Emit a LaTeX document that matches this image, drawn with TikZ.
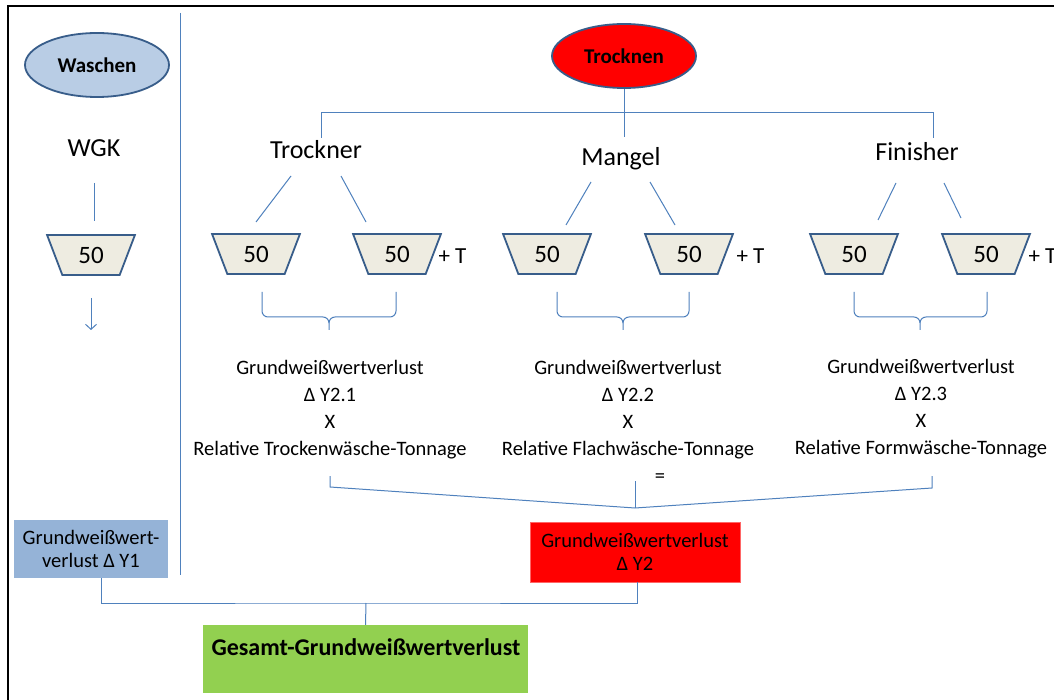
\documentclass[tikz,border=0pt]{standalone}
\usepackage{fontspec}
\setmainfont{Carlito}
\usetikzlibrary{shapes.geometric,arrows.meta}

\definecolor{linkblue}{RGB}{79,129,189}
\definecolor{rimblue}{RGB}{56,93,138}
\definecolor{waschfill}{RGB}{185,205,229}
\definecolor{hopperfill}{RGB}{238,236,225}
\definecolor{yonefill}{RGB}{149,179,215}
\definecolor{totalgreen}{RGB}{146,208,80}
\definecolor{alarmred}{RGB}{255,0,0}

% curly bracket under a pair of hoppers: left x, right x, tip x
\newcommand\pairbrace[3]{%
  \draw[conn] (#1,292) -- (#1,311) to[out=-90,in=180] (#1+6,317) -- (#3-6,317)
    to[out=0,in=90] (#3,323) -- (#3,330);
  \draw[conn] (#3,323) to[out=90,in=180] (#3+6,317) -- (#2-6,317)
    to[out=0,in=-90] (#2,311) -- (#2,292);}

\begin{document}
\begin{tikzpicture}[x=1pt,y=-1pt,
  conn/.style={draw=linkblue, line width=1pt},
  oval/.style={ellipse, draw=rimblue, line width=1.8pt, minimum width=144pt,
    minimum height=64pt, inner sep=0pt, font=\fontsize{21}{24}\selectfont\bfseries},
  hopper/.style={trapezium, trapezium stretches=true, shape border rotate=180,
    trapezium angle=67.6, minimum width=88pt, minimum height=40pt, draw=rimblue,
    line width=1.8pt, fill=hopperfill, inner sep=0pt, font=\fontsize{25}{28}\selectfont},
  heading/.style={anchor=base, font=\fontsize{26}{30}\selectfont},
  plust/.style={anchor=west, font=\fontsize{23}{26}\selectfont},
  formula/.style={align=center, font=\fontsize{20.5}{27}\selectfont},
  result/.style={rectangle, inner sep=0pt, align=center, font=\fontsize{20.5}{23}\selectfont}]

\useasboundingbox (0,0) rectangle (1054,700);
\fill[white] (0,0) rectangle (1054,700);

% outer frame and column divider
\draw[black, line width=2.5pt] (8,700) -- (8,6) -- (1054,6);
\draw[conn] (180,13) -- (180,575);

% washing column
\node[oval, fill=waschfill] (waschen) at (97,65) {Waschen};
\node[heading] (wgk) at (94,157) {WGK};
\node[hopper] (h0) at (91,255) {50};
\draw[conn] (94,183) -- (94,221);
\draw[conn, -{Straight Barb[length=5pt,width=11pt]}] (91,298) -- (91,330);

% drying tree
\node[oval, fill=alarmred] (trocknen) at (624,56) {Trocknen};
\node[heading] (trockner) at (316,159) {Trockner};
\node[heading] (mangel) at (621,166) {Mangel};
\node[heading] (finisher) at (917,161) {Finisher};
\draw[conn] (trocknen.south) -- (624,137);
\draw[conn] (321,138) -- (321,113) -- (933,113) -- (933,138);

\draw[conn] (291,176) -- (256,222);
\draw[conn] (341,176) -- (366,222);
\draw[conn] (591,182) -- (566,225);
\draw[conn] (650,182) -- (675,225);
\draw[conn] (896,183) -- (878,220);
\draw[conn] (944,183) -- (961,218);

\node[hopper] (h1) at (256,254) {50};
\node[hopper] (h2) at (397,254) {50};
\node[hopper] (h3) at (547,254) {50};
\node[hopper] (h4) at (689,254) {50};
\node[hopper] (h5) at (854,254) {50};
\node[hopper] (h6) at (986,254) {50};
\node[plust] (t1) at (435,256) {+ T};
\node[plust] (t2) at (733,256) {+ T};
\node[plust] (t3) at (1025,256) {+ T};

\pairbrace{262}{396}{329}
\pairbrace{557}{689}{623}
\pairbrace{854}{987}{920}

\node[formula] (f1) at (330,410) {Grundweißwertverlust\\Δ Y2.1\\X\\Relative Trockenwäsche-Tonnage};
\node[formula] (f2) at (628,410) {Grundweißwertverlust\\Δ Y2.2\\X\\Relative Flachwäsche-Tonnage};
\node[formula] (f3) at (921,409) {Grundweißwertverlust\\Δ Y2.3\\X\\Relative Formwäsche-Tonnage};
\node[font=\fontsize{20.5}{23}\selectfont] (eq) at (660,478) {=};

\draw[conn] (330,476) -- (330,487) -- (635,508) -- (932,488) -- (932,476);
\draw[conn] (635,481) -- (635,508);

% results
\node[result, fill=yonefill, minimum width=154pt, minimum height=58pt] (y1) at (91,549)
  {Grundweißwert-\\verlust Δ Y1};
\node[result, fill=alarmred, draw=alarmred!60, minimum width=210pt, minimum height=60pt] (y2) at (635,552)
  {Grundweißwertverlust\\Δ Y2};
\node[rectangle, fill=totalgreen, minimum width=325pt, minimum height=68pt, inner sep=0pt] (gesamt) at (365.5,659) {};
\node[font=\fontsize{24}{28}\selectfont\bfseries] (gesamttext) at (366,647) {Gesamt-Grundweißwertverlust};

\coordinate (bus) at (366,603);
\draw[conn] ([xshift=10pt]y1.south) |- (bus) -| ([xshift=2pt]y2.south);
\draw[conn] (bus) -- (gesamt.north);

\end{tikzpicture}
\end{document}
